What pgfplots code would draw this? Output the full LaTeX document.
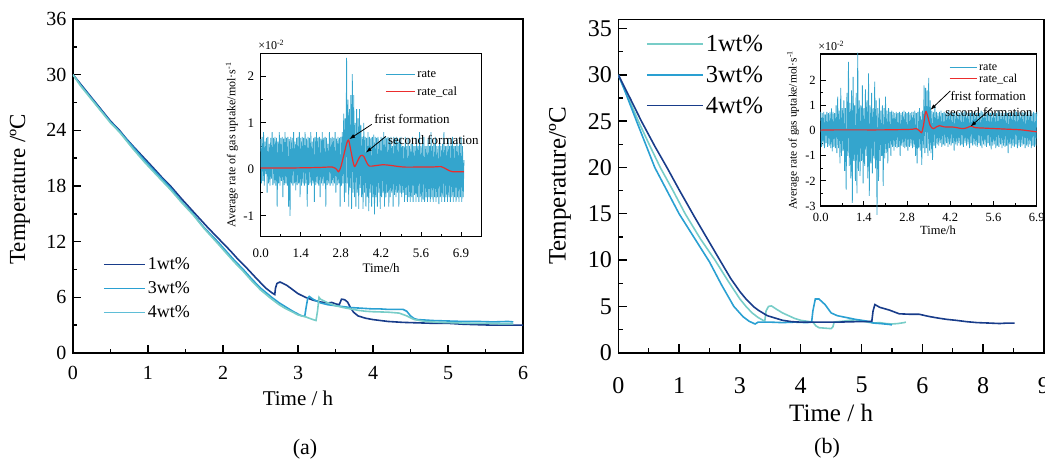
\documentclass[border=0pt]{standalone}
\usepackage{fontspec}
\setmainfont{Liberation Serif}
\usepackage{pgfplots}
\pgfplotsset{compat=1.18}
\usetikzlibrary{arrows.meta}
\definecolor{cnavy}{RGB}{24,60,138}
\definecolor{cblue}{RGB}{42,160,210}
\definecolor{cteal}{RGB}{120,205,200}
\definecolor{clight}{RGB}{95,190,215}
\definecolor{crate}{RGB}{52,165,205}
\definecolor{cred}{RGB}{235,45,45}
\newcommand{\fs}[1]{\fontsize{#1}{#1}\selectfont}
\begin{document}
\begin{tikzpicture}
\useasboundingbox (0pt,0pt) rectangle (1045pt,461pt);
% ---------------- panel (a) main
\begin{axis}[at={(73pt,108pt)}, anchor=south west, scale only axis, width=450pt, height=334pt,
 xmin=0,xmax=6,ymin=0,ymax=36,
 xtick={0,1,2,3,4,5,6}, ytick={0,6,12,18,24,30,36},
 minor x tick num=1, minor y tick num=1,
 tick align=inside, tick pos=left,
 major tick length=8pt, minor tick length=4pt,
 tick style={black, line width=1.4pt},
 axis line style={line width=1.6pt},
 /pgf/number format/assume math mode=true,
 ticklabel style={font=\fs{20}},
 xticklabel style={yshift=-10pt},
 yticklabel style={xshift=-3pt},
 xlabel={Time / h}, xlabel style={font=\fs{21}, at={(axis description cs:0.5,-0.135)}, anchor=center},
 ylabel={Temperature /ºC}, ylabel style={font=\fs{23}, at={(axis description cs:-0.118,0.49)}, anchor=center},
 legend style={draw=none, fill=none, at={(axis description cs:0.06,0.298)}, anchor=north west, font=\fs{18}, row sep=6.5pt},
 legend cell align=left,
 legend image code/.code={\draw[#1, line width=1.6pt] (0pt,0pt) -- (41pt,0pt);},
]
\addplot[cnavy, line width=1.6pt] coordinates {(0,30)(0.1,29.0)(0.2,28.0)(0.3,27.0)(0.4,26.0)(0.5,25.0)(0.62,24.0)(0.7,23.2)(0.8,22.3)(0.95,21.0)(1.1,19.7)(1.2,18.8)(1.3,18.0)(1.45,16.6)(1.63,15.0)(1.8,13.5)(1.98,12.0)(2.1,11.0)(2.2,10.1)(2.3,9.3)(2.45,8.0)(2.57,7.0)(2.65,6.5)(2.69,6.3)(2.70,7.0)(2.72,7.5)(2.76,7.65)(2.8,7.5)(2.85,7.3)(2.9,7.0)(2.95,6.7)(3.0,6.4)(3.05,6.2)(3.1,6.0)(3.2,5.7)(3.3,5.5)(3.4,5.4)(3.45,5.45)(3.5,5.3)(3.55,5.2)(3.58,5.8)(3.62,5.75)(3.66,5.5)(3.7,4.9)(3.74,4.4)(3.8,4.0)(3.9,3.75)(4.0,3.6)(4.2,3.4)(4.4,3.3)(4.6,3.25)(4.8,3.2)(5.0,3.2)(5.2,3.1)(5.4,3.05)(5.6,3.0)(5.8,3.0)(6.0,3.0)};
\addlegendentry{1wt\%}
\addplot[cblue, line width=1.6pt] coordinates {(0,30)(0.1,28.9)(0.3,26.9)(0.5,24.9)(0.62,23.9)(0.8,22.2)(0.95,20.8)(1.1,19.5)(1.3,17.8)(1.45,16.3)(1.6,15.0)(1.75,13.5)(1.93,12.0)(2.05,10.9)(2.15,10.0)(2.27,9.0)(2.38,8.0)(2.5,7.0)(2.65,6.0)(2.75,5.4)(2.83,5.0)(2.93,4.5)(3.0,4.2)(3.05,4.0)(3.09,3.95)(3.11,5.0)(3.13,5.9)(3.15,6.1)(3.2,5.8)(3.3,5.4)(3.4,5.2)(3.5,5.1)(3.6,5.0)(3.7,4.9)(3.8,4.85)(3.9,4.8)(4.0,4.75)(4.1,4.75)(4.2,4.7)(4.3,4.7)(4.4,4.7)(4.45,4.5)(4.5,4.0)(4.55,3.7)(4.6,3.6)(4.8,3.5)(5.0,3.45)(5.2,3.4)(5.4,3.4)(5.6,3.35)(5.8,3.4)(5.87,3.35)};
\addlegendentry{3wt\%}
\addplot[cteal, line width=1.6pt, forget plot] coordinates {(0,30)(0.1,28.8)(0.3,26.8)(0.5,24.8)(0.62,23.8)(0.8,22.0)(0.95,20.6)(1.1,19.3)(1.3,17.6)(1.45,16.2)(1.6,14.9)(1.75,13.4)(1.93,11.8)(2.05,10.7)(2.15,9.8)(2.27,8.8)(2.38,7.8)(2.5,6.8)(2.65,5.8)(2.75,5.2)(2.83,4.8)(2.93,4.4)(3.0,4.1)(3.1,3.9)(3.15,3.75)(3.2,3.6)(3.24,3.5)(3.26,4.5)(3.28,6.0)(3.3,5.8)(3.4,5.4)(3.5,5.1)(3.6,4.9)(3.7,4.75)(3.8,4.6)(3.9,4.5)(4.0,4.45)(4.2,4.4)(4.35,4.3)(4.45,4.0)(4.55,3.6)(4.7,3.4)(4.9,3.3)(5.1,3.25)(5.3,3.2)(5.5,3.2)(5.7,3.15)(5.87,3.15)};
\addlegendimage{clight}
\addlegendentry{4wt\%}
\end{axis}
% ---------------- inset (a)
\begin{axis}[at={(260.7pt,224.3pt)}, anchor=south west, scale only axis, width=221pt, height=183.4pt,
 xmin=0,xmax=7.72,ymin=-1.45,ymax=2.5, clip=false,
 xtick={0,1.4,2.8,4.2,5.6,7}, xticklabels={0.0,1.4,2.8,4.2,5.6,6.9},
 ytick={-1,0,1,2}, yticklabels={-1,0,1,2},
 minor x tick num=1, minor y tick num=1,
 tick align=inside, tick pos=left,
 major tick length=5pt, minor tick length=2.5pt,
 tick style={black, line width=0.9pt},
 axis line style={line width=1.1pt},
 ticklabel style={font=\fs{13}},
 xticklabel style={yshift=-9pt},
 yticklabel style={xshift=-3pt},
 xlabel={Time/h}, xlabel style={font=\fs{13}, at={(axis description cs:0.545,-0.171)}, anchor=center},
 ylabel={Average rate of gas uptake/mol·s\textsuperscript{-1}}, ylabel style={font=\fs{12}, at={(axis description cs:-0.13,0.5)}, anchor=center},
 legend style={draw=none, fill=none, at={(axis description cs:0.55,0.93)}, anchor=north west, font=\fs{12.5}, row sep=4pt},
 legend cell align=left,
 legend image code/.code={\draw[#1, line width=1pt] (0pt,0pt) -- (29pt,0pt);},
]
\addplot[crate, line width=0.8pt] coordinates {(0,0.65)(0.025,-0.3)(0.05,0.7)(0.075,-0.25)(0.1,0.8)(0.125,-0.35)(0.15,0.6)(0.175,-0.1)(0.2,0.68)(0.225,-0.5)(0.25,0.7)(0.275,-0.3)(0.3,0.55)(0.325,-0.35)(0.35,0.68)(0.375,-0.2)(0.4,0.8)(0.425,-0.34)(0.45,0.68)(0.475,-0.3)
(0.5,0.7)(0.525,-0.35)(0.55,0.68)(0.575,-0.8)(0.6,0.6)(0.625,-0.3)(0.65,0.8)(0.675,-0.35)(0.7,0.68)(0.725,-0.25)(0.75,0.7)(0.775,-0.6)(0.8,0.66)(0.825,-0.34)(0.85,0.8)(0.875,-0.3)(0.9,0.68)(0.925,-0.35)(0.95,0.7)(0.975,-0.8)
(1,0.65)(1.025,-1.0)(1.05,0.7)(1.075,-0.3)(1.1,0.68)(1.125,-0.35)(1.15,0.8)(1.175,-0.3)(1.2,0.6)(1.225,-0.45)(1.25,0.68)(1.275,-0.34)(1.3,0.7)(1.325,-0.3)(1.35,0.8)(1.375,-0.6)(1.4,0.68)(1.425,-0.35)(1.45,0.7)(1.475,-0.3)
(1.5,0.68)(1.525,-0.35)(1.55,0.8)(1.575,-0.3)(1.6,0.66)(1.625,-0.8)(1.65,0.7)(1.675,-0.34)(1.7,0.68)(1.725,-0.3)(1.75,0.8)(1.775,-0.35)(1.8,0.6)(1.825,-0.3)(1.85,0.68)(1.875,-0.7)(1.9,0.7)(1.925,-0.34)(1.95,0.8)(1.975,-0.3)
(2,0.68)(2.025,-0.35)(2.05,0.7)(2.075,-0.6)(2.1,0.66)(2.125,-0.3)(2.15,0.8)(2.175,-0.35)(2.2,0.68)(2.225,-0.3)(2.25,0.7)(2.275,-0.8)(2.3,0.68)(2.325,-0.34)(2.35,0.55)(2.375,-0.3)(2.4,0.8)(2.425,-0.35)(2.45,0.68)(2.475,-0.3)
(2.5,0.7)(2.525,-0.35)(2.55,0.68)(2.575,-0.3)(2.6,0.8)(2.625,-0.5)(2.65,0.66)(2.675,-0.34)(2.7,0.7)(2.725,-0.3)(2.75,0.68)(2.775,-0.8)(2.8,0.7)(2.825,-0.35)(2.85,0.8)(2.875,-0.3)(2.9,1.2)(2.925,-0.7)(2.95,1.1)(2.975,-0.5)
(3,2.4)(3.025,-0.3)(3.05,1.5)(3.075,-0.8)(3.1,1.3)(3.125,-0.4)(3.15,1.6)(3.175,-0.85)(3.2,2.05)(3.225,-0.5)(3.25,1.6)(3.275,-0.6)(3.3,1.0)(3.325,-0.8)(3.35,1.3)(3.375,-0.5)(3.4,1.1)(3.425,-0.85)(3.45,1.3)(3.475,-0.4)
(3.5,0.95)(3.525,-0.6)(3.55,0.7)(3.575,-0.85)(3.6,1.0)(3.625,-0.5)(3.65,0.7)(3.675,-0.8)(3.7,0.68)(3.725,-0.6)(3.75,0.8)(3.775,-0.9)(3.8,0.7)(3.825,-0.5)(3.85,0.68)(3.875,-0.8)(3.9,0.7)(3.925,-0.6)(3.95,0.75)(3.975,-0.97)
(4,0.7)(4.025,-0.6)(4.05,0.68)(4.075,-0.8)(4.1,0.7)(4.125,-0.5)(4.15,0.6)(4.175,-0.85)(4.2,0.7)(4.225,-0.6)(4.25,0.68)(4.275,-0.5)(4.3,0.8)(4.325,-0.8)(4.35,0.7)(4.375,-0.6)(4.4,0.68)(4.425,-0.5)(4.45,0.7)(4.475,-0.8)
(4.5,0.68)(4.525,-0.6)(4.55,0.7)(4.575,-0.5)(4.6,0.5)(4.625,-0.8)(4.65,0.7)(4.675,-0.55)(4.7,0.68)(4.725,-0.6)(4.75,0.7)(4.775,-0.5)(4.8,0.6)(4.825,-0.8)(4.85,0.68)(4.875,-0.5)(4.9,0.7)(4.925,-0.6)(4.95,0.5)(4.975,-0.5)
(5,0.5)(5.025,-0.7)(5.05,0.7)(5.075,-0.55)(5.1,0.5)(5.125,-0.7)(5.15,0.68)(5.175,-0.6)(5.2,0.5)(5.225,-0.7)(5.25,0.55)(5.275,-0.6)(5.3,0.7)(5.325,-0.7)(5.35,0.5)(5.375,-0.55)(5.4,0.5)(5.425,-0.7)(5.45,0.68)(5.475,-0.6)
(5.5,0.5)(5.525,-0.7)(5.55,0.8)(5.575,-0.6)(5.6,0.5)(5.625,-0.7)(5.65,0.55)(5.675,-0.65)(5.7,0.7)(5.725,-0.7)(5.75,0.5)(5.775,-0.6)(5.8,0.5)(5.825,-0.7)(5.85,0.68)(5.875,-0.6)(5.9,0.5)(5.925,-0.7)(5.95,0.8)(5.975,-0.6)
(6,0.5)(6.025,-0.7)(6.05,0.55)(6.075,-0.6)(6.1,0.7)(6.125,-0.7)(6.15,0.5)(6.175,-0.6)(6.2,0.5)(6.225,-0.75)(6.25,0.68)(6.275,-0.6)(6.3,0.5)(6.325,-0.7)(6.35,0.55)(6.375,-0.6)(6.4,0.8)(6.425,-0.7)(6.45,0.5)(6.475,-0.6)
(6.5,0.5)(6.525,-0.7)(6.55,0.68)(6.575,-0.6)(6.6,0.5)(6.625,-0.7)(6.65,0.55)(6.675,-0.6)(6.7,0.7)(6.725,-0.7)(6.75,0.5)(6.775,-0.6)(6.8,0.5)(6.825,-0.7)(6.85,0.68)(6.875,-0.6)(6.9,0.5)(6.925,-0.7)(6.95,0.55)(6.975,-0.6)(7,0.7)(7.025,-0.7)(7.05,0.5)(7.075,-0.6)(7.1,0.2)};
\addlegendentry{rate}
\addplot[cred, line width=1.2pt, smooth] coordinates {(0,0.03)(1,0.03)(2,0.04)(2.5,0.05)(2.65,0.0)(2.72,-0.05)(2.8,0.05)(2.9,0.3)(3.0,0.55)(3.07,0.63)(3.15,0.4)(3.25,0.1)(3.3,0.07)(3.4,0.2)(3.5,0.3)(3.6,0.28)(3.7,0.15)(3.8,0.07)(4.0,0.08)(4.3,0.1)(4.6,0.08)(5.0,0.05)(5.5,0.05)(6.0,0.05)(6.3,0.06)(6.5,0.0)(6.7,-0.05)(7.1,-0.05)};
\addlegendentry{rate\_cal}
\draw[-{Latex[length=6pt,width=4pt]}, line width=0.8pt] (axis cs:3.88,0.97) -- (axis cs:3.09,0.65);
\node[anchor=west, font=\fs{13}, inner sep=0pt] at (axis cs:3.96,1.08) {frist formation};
\draw[-{Latex[length=6pt,width=4pt]}, line width=0.8pt] (axis cs:4.37,0.71) -- (axis cs:3.67,0.36);
\node[anchor=west, font=\fs{13}, inner sep=0pt] at (axis cs:4.44,0.63) {second formation};
\node[anchor=south west, inner sep=0pt, font=\fs{12}] at (rel axis cs:-0.012,1) [yshift=3pt] {×10\textsuperscript{-2}};
\end{axis}
% ---------------- panel (b) main
\begin{axis}[at={(618.3pt,108.3pt)}, anchor=south west, scale only axis, width=425.6pt, height=333.4pt,
 xmin=0,xmax=7,ymin=0,ymax=36,
 xtick={0,1,2,3,4,5,6,7}, xticklabels={0,1,3,4,5,6,8,9}, ytick={0,5,10,15,20,25,30,35},
 minor x tick num=1, minor y tick num=1,
 tick align=inside, tick pos=left,
 major tick length=9pt, minor tick length=5pt,
 tick style={black, line width=1.4pt},
 axis line style={line width=1.6pt},
 /pgf/number format/assume math mode=true,
 ticklabel style={font=\fs{24}},
 xticklabel style={yshift=-21pt},
 yticklabel style={xshift=-3pt},
 xlabel={Time / h}, xlabel style={font=\fs{25}, at={(axis description cs:0.5,-0.181)}, anchor=center},
 ylabel={Temperature/ºC}, ylabel style={font=\fs{25}, at={(axis description cs:-0.137,0.5)}, anchor=center},
 legend style={draw=none, fill=none, at={(axis description cs:0.058,0.965)}, anchor=north west, font=\fs{24.5}, row sep=9pt},
 legend cell align=left,
 legend image code/.code={\draw[#1, line width=1.6pt] (0pt,0pt) -- (56pt,0pt);},
]
\addplot[cteal, line width=1.6pt] coordinates {(0,30)(0.1,28.5)(0.2,27)(0.33,25)(0.5,22.6)(0.69,20)(0.9,17.5)(1.1,15)(1.35,12.3)(1.59,10)(1.8,7.8)(2.0,5.8)(2.1,5.0)(2.2,4.3)(2.3,3.8)(2.38,3.5)(2.41,3.45)(2.43,4.5)(2.47,5.0)(2.52,5.05)(2.6,4.7)(2.7,4.3)(2.8,4.0)(2.9,3.7)(3.0,3.5)(3.1,3.4)(3.2,3.3)(3.25,2.9)(3.3,2.7)(3.4,2.65)(3.5,2.6)(3.53,2.8)(3.55,3.3)(3.6,3.35)(3.7,3.4)(3.8,3.5)(3.9,3.55)(4.0,3.45)(4.1,3.3)(4.2,3.2)(4.3,3.25)(4.4,3.15)(4.5,3.1)(4.6,3.15)(4.7,3.25)(4.73,3.3)};
\addlegendentry{1wt\%}
\addplot[cblue, line width=1.6pt] coordinates {(0,30)(0.1,28.4)(0.2,26.7)(0.3,25)(0.45,22.5)(0.6,20)(0.8,17.5)(1.0,15)(1.25,12.4)(1.5,9.8)(1.7,7.3)(1.9,5.0)(2.05,3.9)(2.15,3.4)(2.25,3.1)(2.3,3.3)(2.5,3.3)(2.7,3.25)(2.9,3.3)(3.1,3.25)(3.18,3.3)(3.2,4.5)(3.24,5.8)(3.3,5.8)(3.4,5.2)(3.5,4.3)(3.6,4.0)(3.75,3.8)(3.9,3.6)(4.0,3.5)(4.1,3.4)(4.2,3.2)(4.3,3.15)(4.46,3.05)(4.5,3.0)};
\addlegendentry{3wt\%}
\addplot[cnavy, line width=1.6pt] coordinates {(0,30)(0.1,28.7)(0.2,27.4)(0.38,25)(0.6,22.3)(0.8,20)(1.0,17.6)(1.25,14.7)(1.5,11.9)(1.67,10)(1.85,8.0)(2.0,6.6)(2.1,5.8)(2.22,5.0)(2.3,4.6)(2.45,4.0)(2.55,3.8)(2.7,3.5)(2.85,3.35)(3.0,3.3)(3.3,3.3)(3.6,3.3)(3.9,3.35)(4.1,3.35)(4.17,3.4)(4.19,4.5)(4.22,5.2)(4.3,4.9)(4.46,4.6)(4.62,4.2)(4.8,4.15)(4.95,4.15)(5.05,4.0)(5.12,3.9)(5.25,3.75)(5.4,3.6)(5.55,3.5)(5.73,3.35)(5.9,3.25)(6.1,3.2)(6.27,3.15)(6.4,3.2)(6.52,3.2)};
\addlegendentry{4wt\%}
\end{axis}
% ---------------- inset (b)
\begin{axis}[at={(820.7pt,255pt)}, anchor=south west, scale only axis, width=216pt, height=152pt,
 xmin=0,xmax=7,ymin=-3,ymax=3.05, clip=false,
 xtick={0,1.4,2.8,4.2,5.6,7}, xticklabels={0.0,1.4,2.8,4.2,5.6,6.9},
 ytick={-3,-2,-1,0,1,2}, yticklabels={-3,-2,-1,0,1,2},
 minor x tick num=1, minor y tick num=1,
 tick align=inside, tick pos=left,
 major tick length=5pt, minor tick length=2.5pt,
 tick style={black, line width=0.9pt},
 axis line style={line width=1.1pt},
 ticklabel style={font=\fs{12.5}},
 xticklabel style={yshift=-4pt},
 yticklabel style={xshift=-1.5pt},
 xlabel={Time/h}, xlabel style={font=\fs{12.5}, at={(axis description cs:0.543,-0.158)}, anchor=center},
 ylabel={Average rate of gas uptake/mol·s\textsuperscript{-1}}, ylabel style={font=\fs{11.5}, at={(axis description cs:-0.128,0.5)}, anchor=center},
 legend style={draw=none, fill=none, at={(axis description cs:0.58,0.965)}, anchor=north west, font=\fs{12}, row sep=-2pt},
 legend cell align=left,
 legend image code/.code={\draw[#1, line width=1pt] (0pt,0pt) -- (27pt,0pt);},
]
\addplot[crate, line width=0.8pt] coordinates {(0,0.75)(0.025,-0.65)(0.05,0.7)(0.075,-0.6)(0.1,0.75)(0.125,-0.7)(0.15,0.65)(0.175,-0.5)(0.2,0.75)(0.225,-0.65)(0.25,0.7)(0.275,-0.6)(0.3,0.75)(0.325,-0.7)(0.35,0.89)(0.375,-0.83)(0.4,0.75)(0.425,-0.65)(0.45,0.7)(0.475,-0.7)
(0.5,1.0)(0.525,-0.9)(0.55,1.35)(0.575,-0.7)(0.6,0.8)(0.625,-1.3)(0.65,1.7)(0.675,-1.0)(0.7,0.9)(0.725,-0.8)(0.75,1.2)(0.775,-1.6)(0.8,0.9)(0.825,-2.35)(0.85,1.5)(0.875,-1.0)(0.9,2.74)(0.925,-1.4)(0.95,1.1)(0.975,-1.9)
(1,1.6)(1.025,-2.88)(1.05,2.14)(1.075,-1.2)(1.1,1.0)(1.125,-2.0)(1.15,1.5)(1.175,-2.5)(1.2,3.1)(1.225,-1.6)(1.25,1.2)(1.275,-1.8)(1.3,1.0)(1.325,-1.2)(1.35,1.8)(1.375,-2.1)(1.4,0.9)(1.425,-1.4)(1.45,1.64)(1.475,-1.0)
(1.5,1.2)(1.525,-1.9)(1.55,2.28)(1.575,-2.6)(1.6,1.0)(1.625,-1.3)(1.65,1.5)(1.675,-1.7)(1.7,0.9)(1.725,-1.1)(1.75,1.95)(1.775,-1.5)(1.8,1.2)(1.825,-3.35)(1.85,0.9)(1.875,-2.0)(1.9,1.3)(1.925,-1.2)(1.95,0.8)(1.975,-1.0)
(2,1.0)(2.025,-2.2)(2.05,0.9)(2.075,-1.1)(2.1,1.35)(2.125,-0.9)(2.15,0.8)(2.175,-1.3)(2.2,0.9)(2.225,-0.7)(2.25,0.75)(2.275,-1.0)(2.3,0.8)(2.325,-0.65)(2.35,0.75)(2.375,-0.8)(2.4,0.7)(2.425,-0.65)(2.45,0.75)(2.475,-0.7)
(2.5,0.7)(2.525,-0.65)(2.55,0.75)(2.575,-1.0)(2.6,0.7)(2.625,-0.6)(2.65,0.75)(2.675,-0.65)(2.7,0.8)(2.725,-0.7)(2.75,0.75)(2.775,-0.65)(2.8,0.7)(2.825,-0.8)(2.85,0.75)(2.875,-0.65)(2.9,0.7)(2.925,-0.6)(2.95,0.75)(2.975,-0.7)
(3,0.75)(3.025,-0.65)(3.05,0.8)(3.075,-1.0)(3.1,0.7)(3.125,-1.3)(3.15,0.75)(3.175,-0.7)(3.2,0.9)(3.225,-0.8)(3.25,0.75)(3.275,-1.36)(3.3,0.8)(3.325,-0.7)(3.35,1.8)(3.375,-0.9)(3.4,1.7)(3.425,-0.7)(3.45,1.6)(3.475,-1.0)
(3.5,2.1)(3.525,-0.8)(3.55,1.2)(3.575,-0.9)(3.6,0.8)(3.625,-1.16)(3.65,0.75)(3.675,-0.6)(3.7,1.0)(3.725,-0.7)(3.75,0.75)(3.775,-0.55)(3.8,0.7)(3.825,-0.6)(3.85,0.75)(3.875,-0.5)(3.9,0.8)(3.925,-0.65)(3.95,0.7)(3.975,-0.55)
(4,0.75)(4.025,-0.6)(4.05,0.7)(4.075,-0.5)(4.1,0.75)(4.125,-0.65)(4.15,0.8)(4.175,-0.55)(4.2,0.7)(4.225,-0.6)(4.25,0.75)(4.275,-0.5)(4.3,0.7)(4.325,-0.8)(4.35,0.75)(4.375,-0.55)(4.4,0.7)(4.425,-0.6)(4.45,0.75)(4.475,-0.5)
(4.5,0.7)(4.525,-0.6)(4.55,0.75)(4.575,-0.55)(4.6,0.7)(4.625,-0.65)(4.65,0.8)(4.675,-0.5)(4.7,0.75)(4.725,-0.6)(4.75,0.7)(4.775,-0.55)(4.8,0.75)(4.825,-0.7)(4.85,0.7)(4.875,-0.5)(4.9,0.75)(4.925,-0.6)(4.95,0.7)(4.975,-0.55)
(5,0.75)(5.025,-0.6)(5.05,0.7)(5.075,-0.65)(5.1,0.75)(5.125,-0.5)(5.15,0.7)(5.175,-0.6)(5.2,0.8)(5.225,-0.7)(5.25,0.75)(5.275,-0.55)(5.3,0.7)(5.325,-0.6)(5.35,0.75)(5.375,-0.65)(5.4,0.7)(5.425,-0.5)(5.45,0.75)(5.475,-0.6)
(5.5,0.7)(5.525,-0.75)(5.55,0.75)(5.575,-0.6)(5.6,0.7)(5.625,-0.55)(5.65,0.75)(5.675,-0.7)(5.7,0.7)(5.725,-0.6)(5.75,0.8)(5.775,-0.65)(5.8,0.75)(5.825,-0.55)(5.85,0.7)(5.875,-0.7)(5.9,0.75)(5.925,-0.6)(5.95,0.7)(5.975,-0.65)
(6,0.75)(6.025,-0.6)(6.05,0.7)(6.075,-0.9)(6.1,0.75)(6.125,-0.55)(6.15,0.7)(6.175,-0.7)(6.2,0.75)(6.225,-0.6)(6.25,0.7)(6.275,-0.65)(6.3,0.8)(6.325,-0.55)(6.35,0.75)(6.375,-0.7)(6.4,0.7)(6.425,-0.6)(6.45,0.75)(6.475,-0.65)
(6.5,0.7)(6.525,-0.6)(6.55,0.75)(6.575,-0.55)(6.6,0.7)(6.625,-0.7)(6.65,0.75)(6.675,-0.6)(6.7,0.7)(6.725,-0.65)(6.75,0.8)(6.775,-0.55)(6.8,0.75)(6.825,-0.7)(6.85,0.7)(6.875,-0.6)(6.9,0.75)(6.925,-0.65)(6.95,0.7)(6.975,-0.6)(7,0.75)};
\addlegendentry{rate}
\addplot[cred, line width=1.2pt, smooth] coordinates {(0,0.02)(0.5,0.03)(1,0.03)(2,0.03)(2.9,0.05)(3.1,0.08)(3.2,0.0)(3.27,-0.08)(3.33,0.2)(3.4,0.75)(3.46,0.6)(3.55,0.2)(3.65,0.08)(3.75,0.15)(3.85,0.2)(4.0,0.15)(4.3,0.14)(4.6,0.08)(4.75,0.12)(4.88,0.18)(5.0,0.12)(5.3,0.1)(6.0,0.06)(6.5,0.03)(7.0,-0.05)};
\addlegendentry{rate\_cal}
\draw[-{Latex[length=6pt,width=4pt]}, line width=0.8pt] (axis cs:4.2,1.58) -- (axis cs:3.55,0.82);
\node[anchor=west, font=\fs{13}, inner sep=0pt] at (axis cs:4.2,1.39) {frist formation};
\draw[-{Latex[length=6pt,width=4pt]}, line width=0.8pt] (axis cs:5.55,0.91) -- (axis cs:4.85,0.16);
\node[anchor=west, font=\fs{12.5}, inner sep=0pt] at (axis cs:4.03,0.73) {second formation};
\node[anchor=south west, inner sep=0pt, font=\fs{12}] at (rel axis cs:-0.012,1) [yshift=3pt] {×10\textsuperscript{-2}};
\end{axis}
\node[font=\fs{22}] at (305pt,12pt) {(a)};
\node[font=\fs{22}] at (827pt,13pt) {(b)};
\end{tikzpicture}
\end{document}
